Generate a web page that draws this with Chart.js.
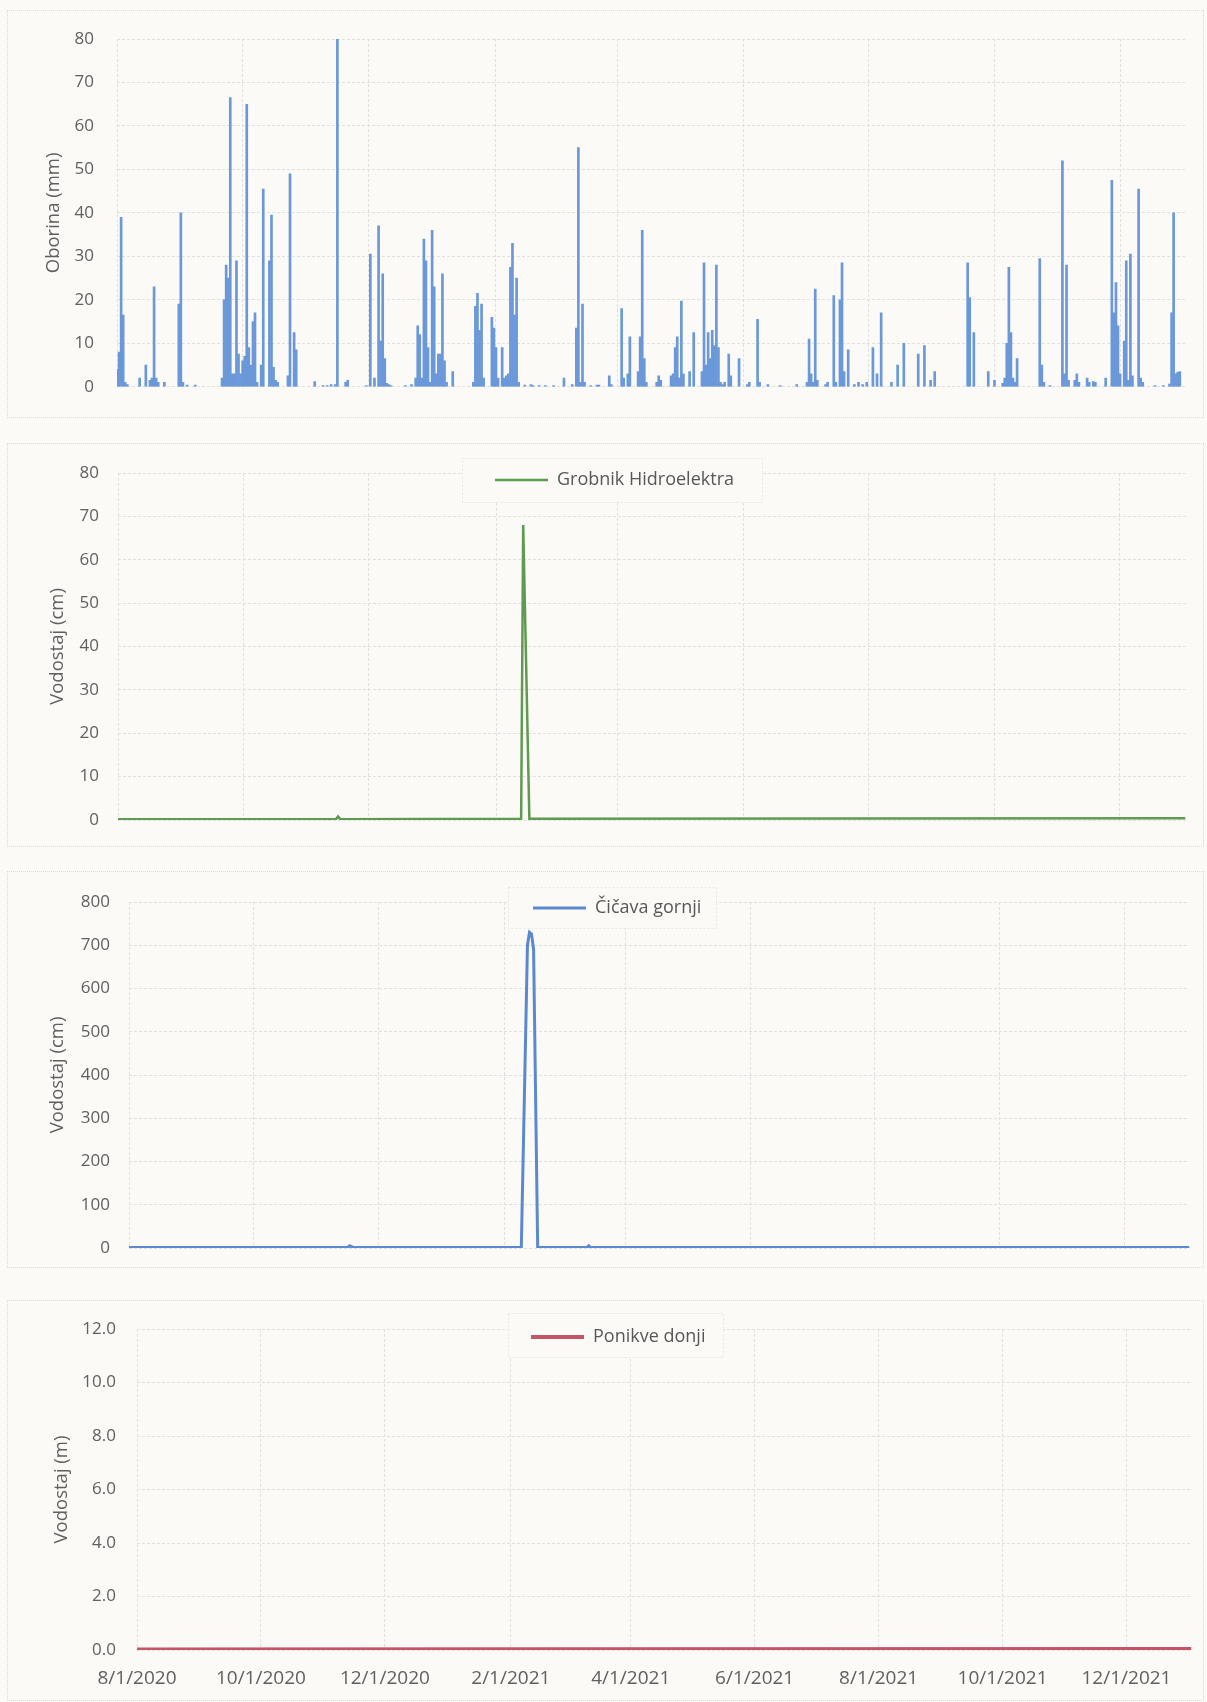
<!DOCTYPE html>
<html lang="hr">
<head>
<meta charset="UTF-8" />
<title>Oborina i vodostaj 8/2020 - 12/2021</title>
<style>
  body {
    margin: 0;
    width: 1207px;
    height: 1702px;
    position: relative;
    overflow: hidden;
    background: #fbfaf7;
    font-family: 'Open Sans', sans-serif;
  }
  .frame {
    position: absolute;
    left: 7px;
    width: 1197px;
    box-sizing: border-box;
    border: 1px dotted #dadada;
  }
  canvas {
    position: absolute;
    left: 0;
  }
</style>
</head>
<body>
<div class="frame" style="top:10px;height:408px"></div>
<div class="frame" style="top:443px;height:404px"></div>
<div class="frame" style="top:871px;height:397px"></div>
<div class="frame" style="top:1300px;height:401px"></div>

<canvas id="rainChart" width="1207" height="420" style="top:0px"></canvas>
<canvas id="grobnikChart" width="1207" height="425" style="top:430px"></canvas>
<canvas id="cicavaChart" width="1207" height="420" style="top:860px"></canvas>
<canvas id="ponikveChart" width="1207" height="412" style="top:1290px"></canvas>

<script src="https://cdn.jsdelivr.net/npm/chart.js@4.4.0/dist/chart.umd.min.js"></script>
<script>
// x axis is "days since 8/1/2020"
const tickDays = [0, 61, 122, 184, 243, 304, 365, 426, 487];
const tickLabels = ['8/1/2020', '10/1/2020', '12/1/2020', '2/1/2021', '4/1/2021',
                    '6/1/2021', '8/1/2021', '10/1/2021', '12/1/2021'];
const xMax = 519;

// daily precipitation (mm), only days with rain
const rainDays = [
  0, 1, 2, 3, 4, 5, 11, 14, 16, 17, 18, 19, 20, 23, 30, 31, 32, 34, 38,
  51, 52, 53, 54, 55, 56, 57, 58, 59, 60, 61, 62, 63, 64, 65, 66, 67, 68, 70, 71,
  74, 75, 76, 77, 78, 83, 84, 86, 87, 96, 100, 102, 104, 106, 107, 111, 112,
  121, 123, 125, 127, 128, 129, 130, 131, 132, 133, 140, 143, 145, 146, 147,
  148, 149, 150, 151, 152, 153, 154, 155, 156, 157, 158, 159, 160, 163,
  173, 174, 175, 176, 177, 178, 182, 183, 184, 185, 187, 188, 189, 190,
  191, 192, 193, 194, 195, 198, 201, 202, 205, 208, 212, 217,
  221, 223, 224, 225, 226, 227, 230, 233, 234, 239, 240,
  245, 246, 248, 249, 253, 254, 255, 256, 257, 262, 263, 264,
  269, 270, 271, 272, 273, 274, 275, 278, 280,
  284, 285, 286, 287, 288, 289, 290, 291, 292, 293, 294, 295, 297, 298, 302,
  306, 307, 311, 312, 316, 322, 330, 335, 336, 337, 338, 339, 340, 344, 345,
  348, 349, 351, 352, 353, 355, 358, 360, 362, 364, 367, 369, 371,
  376, 379, 382, 389, 392, 395, 397, 413, 414, 416, 423, 426,
  430, 431, 432, 433, 434, 435, 436, 437, 448, 449, 450, 453,
  459, 460, 461, 462, 465, 466, 467, 471, 472, 474, 475, 480,
  483, 484, 485, 486, 487, 489, 490, 491, 492, 493, 496, 497, 498,
  504, 508, 511, 512, 513, 514, 515, 516
];
const rainMm = [
  4, 8, 39, 16.5, 1, 0.5, 2, 5, 1.5, 2, 23, 2, 1, 1, 19, 40, 1, 0.4, 0.4,
  2, 20, 28, 25, 66.5, 3, 3, 29, 7.5, 3, 6, 7, 65, 9, 5, 15, 17, 1, 5, 45.5,
  29, 39.5, 4.5, 1.5, 1, 2.5, 49, 12.5, 8.5, 1.2, 0.3, 0.3, 0.5, 0.5, 80, 1, 1.5,
  0.3, 30.5, 2, 37, 10.5, 26, 6.5, 0.8, 0.5, 0.3, 0.3, 0.5, 2, 14, 12,
  2, 34, 29, 9, 1, 36, 23, 3, 7.5, 7.5, 26, 6, 1, 3.5,
  1, 18.5, 21.5, 13, 19, 2, 16, 13.5, 9, 2, 9, 2, 2.5, 3,
  27.5, 33, 16.5, 25, 1, 0.4, 0.5, 0.3, 0.3, 0.3, 0.3, 2,
  0.5, 13.5, 55, 1, 19, 1, 0.3, 0.4, 0.4, 2.5, 0.5,
  18, 2, 3, 11.5, 3.5, 11.5, 36, 6.5, 1, 1, 2.5, 1.5,
  2.5, 3, 9, 11.5, 2, 19.7, 3, 3.5, 12.5,
  3.5, 28.5, 5, 12.5, 6.5, 13, 9.5, 28, 9, 1, 0.5, 1, 7.5, 2.5, 6.5,
  0.5, 1, 15.5, 1, 0.5, 0.3, 0.5, 1, 11, 3, 1, 22.5, 1.5, 0.5, 1,
  21, 1, 20, 28.5, 3.5, 8.5, 0.5, 1, 0.5, 1, 9, 3, 17,
  1, 5, 10, 7.5, 9.5, 1.5, 3.5, 28.5, 20.5, 12.5, 3.5, 1.5,
  0.8, 2, 10, 27.5, 12.5, 2, 1, 6.5, 29.5, 5, 1, 0.3,
  52, 3, 28, 1.5, 1.5, 3, 1, 2, 1, 1.2, 1, 2,
  47.5, 17, 24, 14, 3, 10.5, 29, 1.5, 30.5, 2.5, 45.5, 2, 1,
  0.3, 0.3, 0.6, 17, 40, 3, 3.3, 3.5
];

// water levels
const grobnikDays = [0, 106, 107, 108, 196, 197, 200, 519];
const grobnikCm   = [0.2, 0.2, 0.8, 0.2, 0.3, 68, 0.3, 0.4];

const cicavaDays = [0, 107, 108, 110, 192, 195, 196, 197, 198, 200, 224, 225, 226, 519];
const cicavaCm   = [1, 1, 5, 1, 2, 700, 730, 726, 690, 2, 1, 5, 1, 1];

const ponikveDays = [0, 200, 519];
const ponikveM    = [0.02, 0.03, 0.04];

const gridColor = '#e0e0e0';
const textColor = '#606060';

Chart.defaults.font.family = "'Open Sans', sans-serif";
Chart.defaults.color = textColor;

// legend sits over the plot area, with its own background box
const legendOverlay = {
  id: 'legendOverlay',
  afterLayout(chart, args, opts) {
    const lg = chart.legend;
    if (!lg || !opts.lineStart) return;
    const w = lg.width, h = lg.height;
    lg.left = opts.lineStart - opts.pad;
    lg.right = lg.left + w + 12;
    lg.top = opts.textY - opts.pad - opts.size / 2;
    lg.bottom = lg.top + h;
  },
  afterDatasetsDraw(chart, args, opts) {
    const lg = chart.legend;
    if (!lg || !opts.lineStart) return;
    const ctx = chart.ctx;
    const [bx, by, bw, bh] = opts.box;
    ctx.save();
    ctx.fillStyle = '#fbfaf7';
    ctx.fillRect(bx, by, bw, bh);
    ctx.strokeStyle = '#e6e6e6';
    ctx.lineWidth = 1;
    ctx.setLineDash([2, 2]);
    ctx.strokeRect(bx + 0.5, by + 0.5, bw, bh);
    ctx.restore();
    lg.draw();
  }
};

function dayAxis(showLabels) {
  return {
    type: 'linear',
    min: 0,
    max: xMax,
    offset: false,
    afterBuildTicks: s => { s.ticks = tickDays.map(v => ({ value: v })); },
    afterFit: s => { s.height = showLabels ? 52 : 0; },
    grid: { color: gridColor, drawTicks: false, offset: false },
    border: { display: false, dash: [3, 2] },
    ticks: {
      display: showLabels,
      autoSkip: false,
      maxRotation: 0,
      padding: 17,
      font: { size: 19 },
      callback: (v, i) => tickLabels[i]
    }
  };
}

function valueAxis(opt) {
  return {
    min: 0,
    max: opt.max,
    afterFit: s => { s.width = opt.width; },
    grid: { color: gridColor, drawTicks: false },
    border: { display: false, dash: [3, 2] },
    ticks: {
      stepSize: opt.step,
      padding: opt.pad,
      font: { size: 17 },
      callback: opt.fmt || (v => v)
    },
    title: {
      display: true,
      text: opt.title,
      color: textColor,
      font: { size: 18.5 },
      padding: { top: opt.titlePad, bottom: 0 }
    }
  };
}

function legendOpts() {
  return {
    display: true,
    position: 'chartArea',
    align: 'start',
    maxHeight: 40,
    labels: {
      usePointStyle: true,
      pointStyle: 'line',
      pointStyleWidth: 53,
      padding: 6,
      color: '#575757',
      font: { size: 18 }
    }
  };
}

const common = { animation: false, responsive: false, events: [] };

// precipitation
new Chart(document.getElementById('rainChart'), {
  type: 'bar',
  data: {
    datasets: [{
      label: 'Oborina',
      data: rainDays.map((d, i) => ({ x: d, y: rainMm[i] })),
      backgroundColor: '#6a98d8',
      borderWidth: 0,
      barThickness: 2
    }]
  },
  options: {
    ...common,
    layout: { padding: { top: 39, bottom: 31, left: 0, right: 21 } },
    plugins: { legend: { display: false }, tooltip: { enabled: false } },
    scales: {
      x: dayAxis(false),
      y: valueAxis({ max: 80, step: 10, width: 117, pad: 23, title: 'Oborina (mm)', titlePad: 43 })
    }
  }
});

function levelChart(id, label, days, values, color, lw, yOpt, pad, lgOpt, labelsBelow) {
  return new Chart(document.getElementById(id), {
    type: 'line',
    data: {
      datasets: [{
        label: label,
        data: days.map((d, i) => ({ x: d, y: values[i] })),
        borderColor: color,
        backgroundColor: color,
        borderWidth: lw,
        pointRadius: 0,
        tension: 0
      }]
    },
    options: {
      ...common,
      layout: { padding: pad },
      plugins: {
        legend: legendOpts(),
        tooltip: { enabled: false },
        legendOverlay: lgOpt
      },
      scales: { x: dayAxis(labelsBelow), y: valueAxis(yOpt) }
    },
    plugins: [legendOverlay]
  });
}

levelChart('grobnikChart', 'Grobnik Hidroelektra', grobnikDays, grobnikCm, '#5e9b50', 2.5,
  { max: 80, step: 10, width: 118, pad: 19, title: 'Vodostaj (cm)', titlePad: 46.5 },
  { top: 43, bottom: 35, left: 0, right: 21.5 },
  { lineStart: 495, textY: 50, pad: 6, size: 18, box: [462, 28, 300, 44] },
  false);

levelChart('cicavaChart', 'Čičava gornji', cicavaDays, cicavaCm, '#5b89d0', 3,
  { max: 800, step: 100, width: 129, pad: 19, title: 'Vodostaj (cm)', titlePad: 46.5 },
  { top: 42, bottom: 32, left: 0, right: 17.5 },
  { lineStart: 533, textY: 48, pad: 6, size: 18, box: [508, 27, 208, 41] },
  false);

levelChart('ponikveChart', 'Ponikve donji', ponikveDays, ponikveM, '#c45468', 4,
  { max: 12, step: 2, width: 137, pad: 21, title: 'Vodostaj (m)', titlePad: 50.5, fmt: v => v.toFixed(1) },
  { top: 39, bottom: 0, left: 0, right: 15.5 },
  { lineStart: 531, textY: 47, pad: 6, size: 18, box: [508, 23, 215, 44] },
  true);
</script>
</body>
</html>
